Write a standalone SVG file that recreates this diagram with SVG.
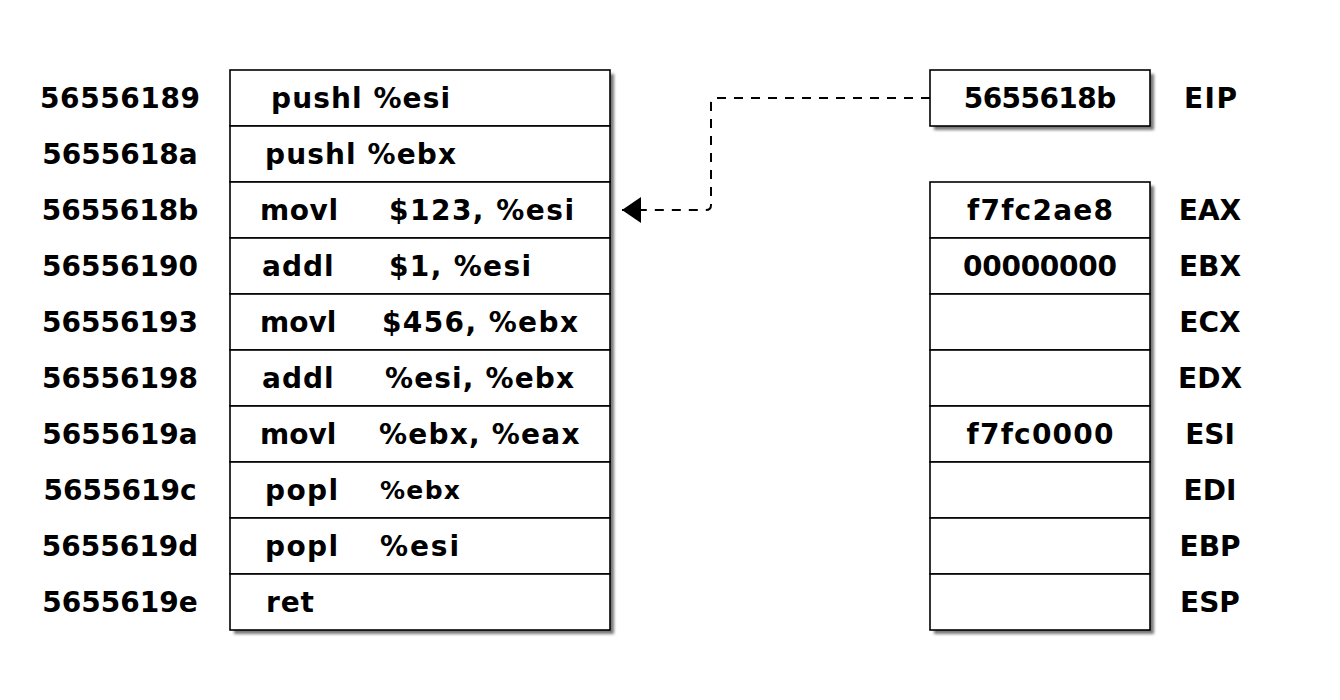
<svg xmlns="http://www.w3.org/2000/svg" width="1340" height="700" viewBox="0 0 1340 700">
<style>
text{font-family:"DejaVu Sans",Verdana,sans-serif;font-weight:bold;font-size:28px;fill:#000}
.c{text-anchor:middle}
.cell{fill:#fff;stroke:#000;stroke-width:1.6}
.sh{fill:#777}
.conn{fill:none;stroke:#000;stroke-width:2;stroke-dasharray:9 8}
</style>
<defs>
<filter id="blur" x="-10%" y="-10%" width="120%" height="120%"><feGaussianBlur stdDeviation="1.8"/></filter>
<marker id="arr" viewBox="0 0 20 26" refX="19" refY="13" markerWidth="20" markerHeight="26" markerUnits="userSpaceOnUse" orient="auto"><path d="M0,0 L19,13 L0,26 Z" fill="#000"/></marker>
</defs>
<rect width="1340" height="700" fill="#fff"/>
<g id="shadows" filter="url(#blur)">
<rect class="sh" x="234" y="74" width="380" height="560"/>
<rect class="sh" x="934" y="74" width="220" height="56"/>
<rect class="sh" x="934" y="186" width="220" height="448"/>
</g>
<g id="addresses">
<text class="c" x="120" y="108" textLength="160" lengthAdjust="spacing">56556189</text>
<text class="c" x="120" y="164">5655618a</text>
<text class="c" x="120" y="220">5655618b</text>
<text class="c" x="120" y="276">56556190</text>
<text class="c" x="120" y="332">56556193</text>
<text class="c" x="120" y="388">56556198</text>
<text class="c" x="120" y="444">5655619a</text>
<text class="c" x="120" y="500">5655619c</text>
<text class="c" x="120" y="556">5655619d</text>
<text class="c" x="120" y="612">5655619e</text>
</g>
<g id="code">
<g id="i1"><rect class="cell" x="230" y="70" width="380" height="56"/><text x="271" y="108" textLength="179" lengthAdjust="spacing">pushl %esi</text></g>
<g id="i2"><rect class="cell" x="230" y="126" width="380" height="56"/><text x="265" y="164" textLength="191" lengthAdjust="spacing">pushl %ebx</text></g>
<g id="i3"><rect class="cell" x="230" y="182" width="380" height="56"/><text x="260" y="220" textLength="78" lengthAdjust="spacing">movl</text><text x="389" y="220" textLength="185" lengthAdjust="spacing">$123, %esi</text></g>
<g id="i4"><rect class="cell" x="230" y="238" width="380" height="56"/><text x="262" y="276" textLength="71.6" lengthAdjust="spacing">addl</text><text x="389" y="276" textLength="142" lengthAdjust="spacing">$1, %esi</text></g>
<g id="i5"><rect class="cell" x="230" y="294" width="380" height="56"/><text x="260" y="332">movl</text><text x="382" y="332" textLength="196" lengthAdjust="spacing">$456, %ebx</text></g>
<g id="i6"><rect class="cell" x="230" y="350" width="380" height="56"/><text x="262" y="388" textLength="71.6" lengthAdjust="spacing">addl</text><text x="385" y="388" textLength="189" lengthAdjust="spacing">%esi, %ebx</text></g>
<g id="i7"><rect class="cell" x="230" y="406" width="380" height="56"/><text x="260" y="444">movl</text><text x="379" y="444" textLength="200.5" lengthAdjust="spacing">%ebx, %eax</text></g>
<g id="i8"><rect class="cell" x="230" y="462" width="380" height="56"/><text x="265" y="500" textLength="73" lengthAdjust="spacing">popl</text><text x="380" y="499" style="font-size:25px" textLength="80" lengthAdjust="spacing">%ebx</text></g>
<g id="i9"><rect class="cell" x="230" y="518" width="380" height="56"/><text x="265" y="556" textLength="73" lengthAdjust="spacing">popl</text><text x="380" y="556" textLength="79" lengthAdjust="spacing">%esi</text></g>
<g id="i10"><rect class="cell" x="230" y="574" width="380" height="56"/><text x="266" y="612" textLength="48" lengthAdjust="spacing">ret</text></g>
</g>
<g id="eip">
<rect class="cell" x="930" y="70" width="220" height="56"/>
<text class="c" x="1040" y="108" textLength="152.5" lengthAdjust="spacing">5655618b</text>
<text class="c" x="1210.5" y="108" textLength="53" lengthAdjust="spacing">EIP</text>
</g>
<g id="registers">
<g id="eax"><rect class="cell" x="930" y="182" width="220" height="56"/><text class="c" x="1040" y="220" textLength="146" lengthAdjust="spacing">f7fc2ae8</text><text class="c" x="1210" y="220">EAX</text></g>
<g id="ebx"><rect class="cell" x="930" y="238" width="220" height="56"/><text class="c" x="1040" y="276" textLength="154" lengthAdjust="spacing">00000000</text><text class="c" x="1210" y="276">EBX</text></g>
<g id="ecx"><rect class="cell" x="930" y="294" width="220" height="56"/><text class="c" x="1210" y="332">ECX</text></g>
<g id="edx"><rect class="cell" x="930" y="350" width="220" height="56"/><text class="c" x="1210" y="388">EDX</text></g>
<g id="esi"><rect class="cell" x="930" y="406" width="220" height="56"/><text class="c" x="1040" y="444" textLength="147" lengthAdjust="spacing">f7fc0000</text><text class="c" x="1210" y="444">ESI</text></g>
<g id="edi"><rect class="cell" x="930" y="462" width="220" height="56"/><text class="c" x="1210" y="500">EDI</text></g>
<g id="ebp"><rect class="cell" x="930" y="518" width="220" height="56"/><text class="c" x="1210" y="556">EBP</text></g>
<g id="esp"><rect class="cell" x="930" y="574" width="220" height="56"/><text class="c" x="1210" y="612">ESP</text></g>
</g>
<g id="connectors">
<path class="conn" d="M930,98 H716 Q711,98 711,103 V205 Q711,210 706,210 H622" marker-end="url(#arr)"/>
</g>
</svg>
